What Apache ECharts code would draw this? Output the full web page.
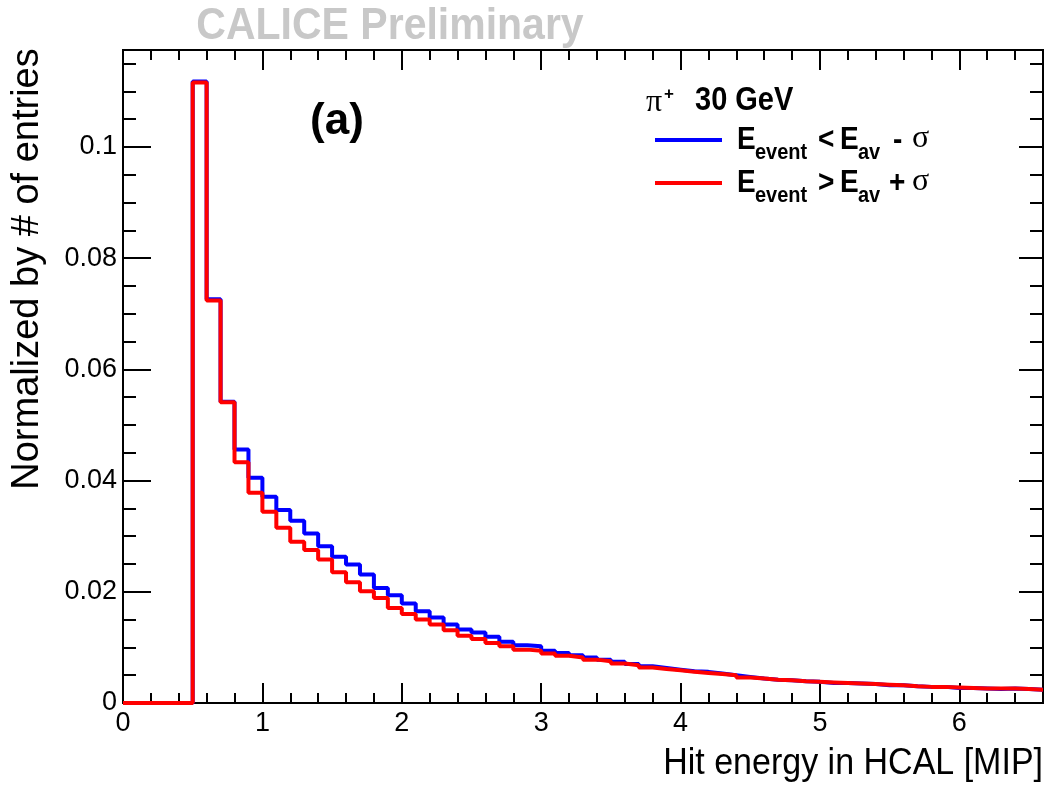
<!DOCTYPE html>
<html>
<head>
<meta charset="utf-8">
<title>Hit energy in HCAL</title>
<style>
  html, body { margin: 0; padding: 0; background: #fff; }
  #page { width: 1047px; height: 785px; }
</style>
</head>
<body>
<div id="page"></div>
<script src="https://cdn.jsdelivr.net/npm/echarts/dist/echarts.min.js"></script>
<script>
    // bin width of the histogram, x range 0 .. 6.6 MIP
    var binWidth = 0.1;
    var xMax = 6.6;
    var yMax = 0.11745;

    // E_event < E_av - sigma (blue), one value per bin starting at 0
    var lowValues = [
        0, 0, 0, 0, 0,
        0.1118, 0.0726, 0.0542, 0.0456, 0.0405,
        0.0371, 0.0347, 0.0328, 0.0305, 0.0282, 0.0263, 0.0249, 0.0231, 0.0207, 0.0194,
        0.0179, 0.0165, 0.0154, 0.0141, 0.0132, 0.0127, 0.0119, 0.0110, 0.0104, 0.0102,
        0.0094, 0.0090, 0.0086, 0.0082, 0.0078, 0.0074, 0.0070, 0.0066, 0.0063, 0.0060,
        0.0057, 0.0056, 0.0053, 0.0050, 0.0047, 0.0044, 0.0042, 0.0041, 0.0039, 0.0038,
        0.0036, 0.0036, 0.0035, 0.0034, 0.0032, 0.0032, 0.0030, 0.0029, 0.0029, 0.0027,
        0.0027, 0.0026, 0.0025, 0.0026, 0.0025, 0.0024
    ];

    // E_event > E_av + sigma (red)
    var highValues = [
        0, 0, 0, 0, 0,
        0.1116, 0.0724, 0.0541, 0.0433, 0.0378,
        0.0344, 0.0315, 0.0290, 0.0275, 0.0258, 0.0235, 0.0217, 0.0201, 0.0189, 0.0171,
        0.0160, 0.0150, 0.0141, 0.0131, 0.0121, 0.0115, 0.0108, 0.0102, 0.0096, 0.0094,
        0.0089, 0.0085, 0.0082, 0.0078, 0.0075, 0.0071, 0.0068, 0.0064, 0.0061, 0.0059,
        0.0056, 0.0054, 0.0052, 0.0050, 0.0046, 0.0044, 0.0042, 0.0041, 0.0039, 0.0038,
        0.0037, 0.0036, 0.0035, 0.0034, 0.0033, 0.0032, 0.0030, 0.0029, 0.0029, 0.0028,
        0.0027, 0.0026, 0.0026, 0.0026, 0.0025, 0.0024
    ];

    var FONT = "'Liberation Sans', Arial, Helvetica, sans-serif";
    var SERIF = "'Liberation Serif', 'DejaVu Serif', serif";

    // [binLow, value] pairs plus the closing point at the right edge
    function toSteps(values) {
        var out = [];
        for (var i = 0; i < values.length; i++) {
            out.push([+(i * binWidth).toFixed(2), values[i]]);
        }
        out.push([+(values.length * binWidth).toFixed(2), values[values.length - 1]]);
        return out;
    }

    function xAxisDef(pos, interval, len, labels) {
        return {
            type: 'value', position: pos, min: 0, max: xMax, interval: interval,
            axisLine: {show: false, onZero: false},
            splitLine: {show: false},
            axisTick: {show: true, inside: true, length: len, lineStyle: {color: '#000', width: 2}},
            axisLabel: {
                show: labels, margin: 7, showMaxLabel: false,
                color: '#000', fontSize: 27, fontFamily: FONT
            }
        };
    }

    function yAxisDef(pos, interval, len, labels) {
        return {
            type: 'value', position: pos, min: 0, max: yMax, interval: interval,
            axisLine: {show: false, onZero: false},
            splitLine: {show: false},
            axisTick: {show: true, inside: true, length: len, lineStyle: {color: '#000', width: 2}},
            axisLabel: {
                show: labels, margin: 6, showMaxLabel: false,
                color: '#000', fontSize: 27, fontFamily: FONT
            }
        };
    }

    function txt(x, y, text, size, opts) {
        opts = opts || {};
        return {
            type: 'text', x: x, y: y, rotation: opts.rotation || 0, z: 100,
            scaleY: opts.scaleY || 1,
            style: {
                text: text,
                fontSize: size,
                fontWeight: opts.bold ? 'bold' : 'normal',
                fontFamily: opts.family || FONT,
                fill: opts.color || '#000',
                align: opts.align || 'left',
                verticalAlign: 'middle'
            }
        };
    }

    function legendRow(y, color, rel, op) {
        return [
            {type: 'line', z: 100, shape: {x1: 655, y1: y, x2: 722, y2: y},
                style: {stroke: color, lineWidth: 4}},
            txt(737, y, 'E', 28, {bold: true, scaleY: 1.12}),
            txt(755, y + 13, 'event', 20, {bold: true, scaleY: 1.12}),
            txt(818, y, rel, 28, {bold: true, scaleY: 1.12}),
            txt(840, y, 'E', 28, {bold: true, scaleY: 1.12}),
            txt(858, y + 13, 'av', 20, {bold: true, scaleY: 1.12}),
            txt(op === '-' ? 893 : 889, y, op, 28, {bold: true, scaleY: 1.12}),
            txt(912, y - 1, 'σ', 32, {family: SERIF})
        ];
    }

    var chart = echarts.init(document.getElementById('page'));

    var graphics = [
        txt(390, 27, 'CALICE Preliminary', 41, {bold: true, color: '#c8c8c8', align: 'center', scaleY: 1.08}),
        txt(337, 122, '(a)', 44, {bold: true, align: 'center'}),
        txt(1043, 764, 'Hit energy in HCAL [MIP]', 34, {align: 'right', scaleY: 1.1}),
        txt(28, 269, 'Normalized by # of entries', 38, {align: 'center', rotation: Math.PI / 2}),
        txt(646, 103, 'π', 32, {family: SERIF}),
        txt(664, 94, '+', 17, {bold: true}),
        txt(695, 101, '30 GeV', 29, {bold: true, scaleY: 1.12})
    ].concat(legendRow(140, '#0000ff', '<', '-'), legendRow(183, '#ff0000', '>', '+'));

    chart.setOption({
        animation: false,
        backgroundColor: '#fff',
        grid: {
            left: 123, right: 4, top: 50, bottom: 82,
            show: true, borderColor: '#000', borderWidth: 2, backgroundColor: 'transparent'
        },
        xAxis: [
            xAxisDef('bottom', 1, 20, true),
            xAxisDef('bottom', 0.2, 10, false),
            xAxisDef('top', 1, 20, false),
            xAxisDef('top', 0.2, 10, false)
        ],
        yAxis: [
            yAxisDef('left', 0.02, 28, true),
            yAxisDef('left', 0.005, 13, false),
            yAxisDef('right', 0.02, 24, false),
            yAxisDef('right', 0.005, 13, false)
        ],
        series: [
            {
                name: 'low', type: 'line', step: 'end', showSymbol: false, clip: false,
                xAxisIndex: 0, yAxisIndex: 0,
                lineStyle: {color: '#0000ff', width: 4},
                data: toSteps(lowValues)
            },
            {
                name: 'high', type: 'line', step: 'end', showSymbol: false, clip: false,
                xAxisIndex: 0, yAxisIndex: 0,
                lineStyle: {color: '#ff0000', width: 4},
                data: toSteps(highValues)
            }
        ],
        graphic: graphics
    });
</script>
</body>
</html>
